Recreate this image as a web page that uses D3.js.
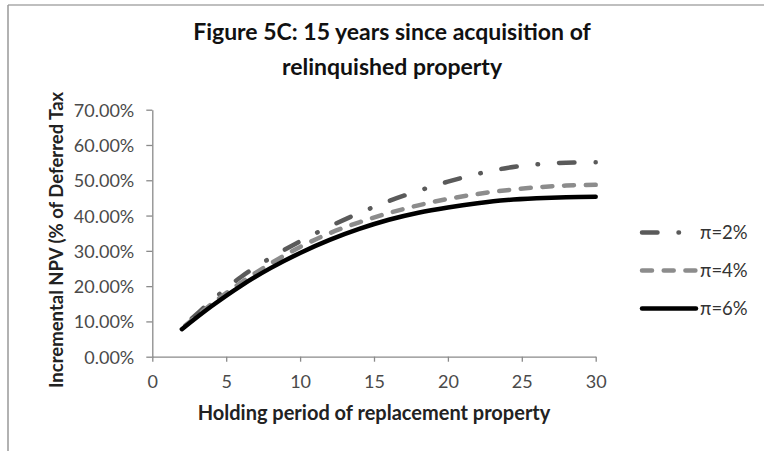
<!DOCTYPE html>
<html>
<head>
<meta charset="utf-8">
<script src="https://cdn.jsdelivr.net/npm/d3@7/dist/d3.min.js"></script>
<style>
html,body{margin:0;padding:0;background:#fff;}
svg{display:block;}
text{font-family:Lato,"Open Sans",sans-serif;}
</style>
</head>
<body>
<svg id="chart" width="764" height="451"></svg>
<script>
const years = [2,4,6,8,10,12,14,16,18,20,22,24,26,28,30];
const pi2 = [8.2,15.8,22.6,28.0,32.7,36.9,40.7,44.1,47.0,49.6,51.8,53.5,54.5,55.0,55.1];
const pi4 = [8.0,14.9,21.0,26.4,31.1,35.0,38.1,40.7,42.9,44.7,46.1,47.2,48.0,48.5,48.7];
const pi6 = [7.8,14.3,20.1,25.1,29.4,33.1,36.2,38.8,40.8,42.3,43.5,44.4,44.9,45.2,45.3];
const seriesNames = ["\u03c0=2%","\u03c0=4%","\u03c0=6%"];
const xTicks = [0,5,10,15,20,25,30];
const yTicks = [0,10,20,30,40,50,60,70];
const titleLines = ["Figure 5C: 15 years since acquisition of","relinquished property"];
const xTitle = "Holding period of replacement property";
const yTitle = "Incremental NPV (% of Deferred Tax";

const styles = [
  {color:"#5a5a5a", dash:[15.5,21,0.5,21], endAt:36.75},
  {color:"#8c8c8c", dash:[10,11.7], endAt:10},
  {color:"#000000", dash:null}
];
const seriesData = [pi2,pi4,pi6];

const svg = d3.select("#chart");
// outer frame (partial border visible)
svg.append("line").attr("x1",8).attr("x2",764).attr("y1",5).attr("y2",5).attr("stroke","#aaa").attr("stroke-width",1.5);
svg.append("line").attr("x1",8).attr("x2",8).attr("y1",5).attr("y2",451).attr("stroke","#999").attr("stroke-width",1.5);

const x = d3.scaleLinear().domain([0,30]).range([152.3,595.7]);
const y = d3.scaleLinear().domain([0,70]).range([356.7,109.7]);

// title
const title = svg.append("text").attr("text-anchor","middle").attr("font-weight","bold")
  .attr("font-size",23).attr("fill","#111");
title.selectAll("tspan").data(titleLines).join("tspan")
  .attr("x",392).attr("y",(d,i)=>40+i*35).text(d=>d);

// axes
const xAxis = svg.append("g").attr("transform",`translate(0,${y(0)})`)
  .call(d3.axisBottom(x).tickValues(xTicks).tickSize(5).tickSizeOuter(0).tickPadding(10));
const yAxis = svg.append("g").attr("transform",`translate(${x(0)},0)`)
  .call(d3.axisLeft(y).tickValues(yTicks).tickSize(6).tickSizeOuter(0).tickPadding(12)
    .tickFormat(d=>d.toFixed(2)+"%"));
[xAxis,yAxis].forEach(g=>{
  g.select(".domain").attr("stroke","#8a8a8a").attr("stroke-width",1.3);
  g.selectAll(".tick line").attr("stroke","#8a8a8a").attr("stroke-width",1.3);
  g.selectAll(".tick text").attr("font-size",18).attr("fill","#4a4a4a")
    .attr("font-family","Lato,'Open Sans',sans-serif");
});
xAxis.selectAll(".tick text").attr("dy","0.9em");
yAxis.selectAll(".tick text").attr("dy","0.36em");

// axis titles
svg.append("text").attr("x",374).attr("y",420).attr("text-anchor","middle")
  .attr("font-weight","bold").attr("font-size",20).attr("fill","#222").text(xTitle);
svg.append("text").attr("transform","translate(63,388) rotate(-90)").attr("text-anchor","start")
  .attr("font-weight","bold").attr("font-size",18.5).attr("fill","#222").text(yTitle);

// lines
const line = d3.line().x((d,i)=>x(years[i])).y(d=>y(d)).curve(d3.curveCatmullRom.alpha(0.5));
seriesData.forEach((s,k)=>{
  const p = svg.append("path").datum(s).attr("d",line).attr("fill","none")
    .attr("stroke",styles[k].color).attr("stroke-width",4.5)
    .attr("stroke-linecap","round").attr("stroke-linejoin","round");
  if (styles[k].dash) {
    const period = d3.sum(styles[k].dash);
    const L = p.node().getTotalLength();
    const off = (((styles[k].endAt - L) % period) + period) % period;
    p.attr("stroke-dasharray",styles[k].dash.join(",")).attr("stroke-dashoffset",off);
  }
});

// legend
const legY = [232.5,270.5,308.5];
seriesNames.forEach((n,k)=>{
  svg.append("line").attr("x1",642).attr("x2",696).attr("y1",legY[k]).attr("y2",legY[k])
    .attr("stroke",styles[k].color).attr("stroke-width",4.5).attr("stroke-linecap","round")
    .attr("stroke-dasharray",styles[k].dash ? styles[k].dash.join(",") : null);
  svg.append("text").attr("x",700).attr("y",legY[k]).attr("dy","0.36em")
    .attr("font-size",18.5).attr("fill","#333").text(n);
});
</script>
</body>
</html>
